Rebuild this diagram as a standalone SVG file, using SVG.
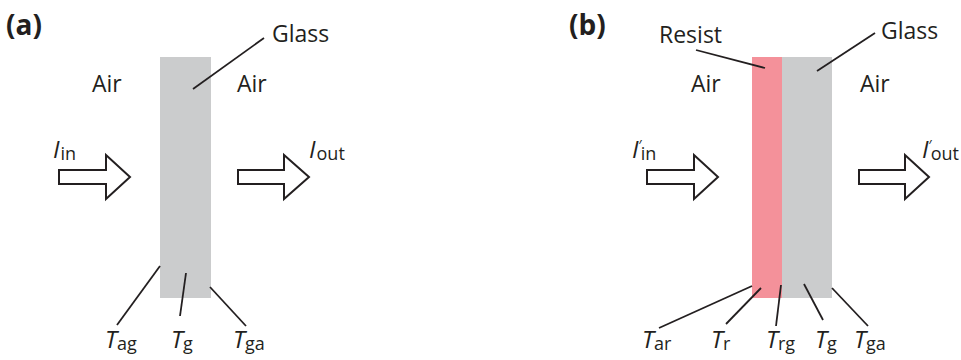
<svg xmlns="http://www.w3.org/2000/svg" width="961" height="360" viewBox="0 0 961 360">
<style>
text{font-family:"Open Sans","Liberation Sans",sans-serif;fill:#231f20}
.lbl{font-size:23px}
.pan{font-size:28px;font-weight:bold}
.it{font-size:24px;font-style:italic}
.sub{font-size:18px;font-style:normal}
.pr{font-size:14px;font-style:normal}
.ln{stroke:#231f20;stroke-width:1.8;fill:none}
.arr{stroke:#231f20;stroke-width:2;fill:#fff;stroke-linejoin:miter}
.glass{fill:#cbcccd}
.resist{fill:#f4919a}
</style>
<rect width="961" height="360" fill="#fff"/>
<g id="panel-a">
  <text class="pan" x="6" y="35">(a)</text>
  <g id="a-glass"><rect class="glass" x="160" y="57" width="51" height="241"/></g>
  <g id="a-labels">
    <text class="lbl" x="272" y="42">Glass</text>
    <text class="lbl" x="92" y="92">Air</text>
    <text class="lbl" x="237" y="92">Air</text>
  </g>
  <g id="a-in"><polygon class="arr" points="59,170 106,170 106,155 130,177 106,199 106,184 59,184"/>
    <text class="it" x="53" y="158">I<tspan class="sub" dx="1" dy="2">in</tspan></text></g>
  <g id="a-out"><polygon class="arr" points="238,170 284,170 284,155 309,177 284,199 284,184 238,184"/>
    <text class="it" x="309" y="158">I<tspan class="sub" dx="1" dy="2">out</tspan></text></g>
  <g id="a-T">
    <text class="it" x="105" y="348">T<tspan class="sub" dy="2">ag</tspan></text>
    <text class="it" x="171" y="348">T<tspan class="sub" dy="2">g</tspan></text>
    <text class="it" x="233" y="348">T<tspan class="sub" dy="2">ga</tspan></text>
  </g>
</g>
<g id="panel-b">
  <text class="pan" x="569" y="35">(b)</text>
  <g id="b-resist"><rect class="resist" x="752" y="57" width="30" height="241"/></g>
  <g id="b-glass"><rect class="glass" x="782" y="57" width="50" height="241"/></g>
  <g id="b-labels">
    <text class="lbl" x="659" y="43">Resist</text>
    <text class="lbl" x="881" y="39">Glass</text>
    <text class="lbl" x="691" y="92">Air</text>
    <text class="lbl" x="860" y="92">Air</text>
  </g>
  <g id="b-in"><polygon class="arr" points="647,170 694,170 694,155 718,177 694,199 694,184 647,184"/>
    <text class="it" x="632" y="158">I<tspan class="pr" dx="0" dy="-8">′</tspan><tspan class="sub" dx="-1" dy="10">in</tspan></text></g>
  <g id="b-out"><polygon class="arr" points="859,170 905,170 905,155 929,177 905,199 905,184 859,184"/>
    <text class="it" x="922" y="158">I<tspan class="pr" dx="0" dy="-8">′</tspan><tspan class="sub" dx="-1" dy="10">out</tspan></text></g>
  <g id="b-T">
    <text class="it" x="642" y="348">T<tspan class="sub" dy="2">ar</tspan></text>
    <text class="it" x="711" y="348">T<tspan class="sub" dy="2">r</tspan></text>
    <text class="it" x="766" y="348">T<tspan class="sub" dy="2">rg</tspan></text>
    <text class="it" x="815" y="348">T<tspan class="sub" dy="2">g</tspan></text>
    <text class="it" x="854" y="348">T<tspan class="sub" dy="2">ga</tspan></text>
  </g>
</g>
<g id="connectors">
  <line class="ln" x1="264" y1="38" x2="193" y2="89"/>
  <line class="ln" x1="160" y1="266" x2="117" y2="325"/>
  <line class="ln" x1="186" y1="273" x2="180" y2="316"/>
  <line class="ln" x1="210" y1="287" x2="246" y2="326"/>
  <line class="ln" x1="696" y1="50" x2="765" y2="68"/>
  <line class="ln" x1="875" y1="33" x2="817" y2="71"/>
  <line class="ln" x1="752" y1="286" x2="659" y2="328"/>
  <line class="ln" x1="761" y1="288" x2="726" y2="324"/>
  <line class="ln" x1="781" y1="285" x2="776" y2="326"/>
  <line class="ln" x1="804" y1="284" x2="823" y2="320"/>
  <line class="ln" x1="832" y1="288" x2="868" y2="326"/>
</g>
</svg>
